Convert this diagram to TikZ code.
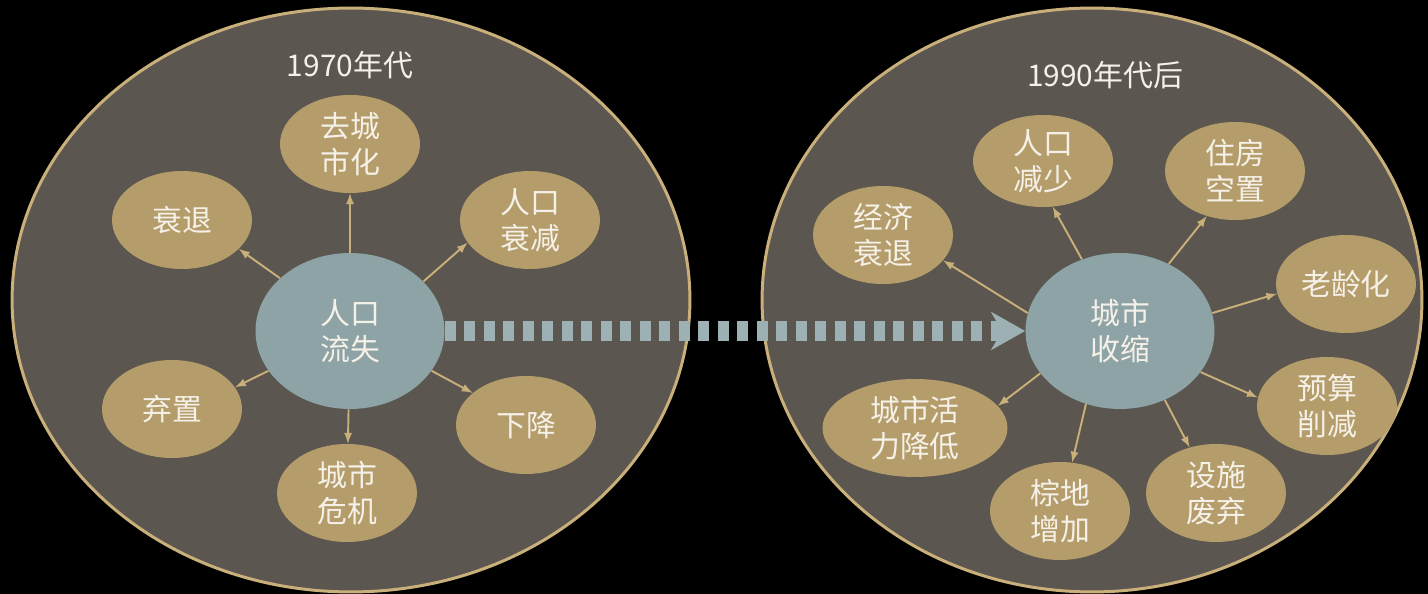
\documentclass[tikz,border=0pt]{standalone}
\usepackage{fontspec}
\setmainfont{Noto Sans CJK SC}
\usepackage{tikz}
\usetikzlibrary{shapes,arrows,arrows.meta}

\definecolor{eraback}{HTML}{5B564F}
\definecolor{rim}{HTML}{C9B07A}
\definecolor{leaffill}{HTML}{B59D6B}
\definecolor{corefill}{HTML}{8EA3A6}
\definecolor{dashc}{HTML}{9DB1B5}
\definecolor{ink}{HTML}{F5F1E8}

\begin{document}
\begin{tikzpicture}[x=0.02cm, y=-0.02cm, >=latex]
      \tikzstyle{era} = [ellipse, draw=rim, fill=eraback, line width=1.7pt, inner sep=0pt]
      \tikzstyle{title} = [text=ink, font=\fontsize{17pt}{20.5pt}\selectfont]
      \tikzstyle{core} = [ellipse, fill=corefill, text=ink, align=center, inner sep=0pt,
        minimum width=3.78cm, minimum height=3.12cm, font=\fontsize{17pt}{20.5pt}\selectfont]
      \tikzstyle{leaf} = [ellipse, fill=leaffill, text=ink, align=center, inner sep=0pt,
        minimum width=2.8cm, minimum height=1.96cm, font=\fontsize{17pt}{20.5pt}\selectfont]
      \tikzstyle{link} = [draw=rim, line width=1.1pt, ->]
      \tikzstyle{flow} = [draw=dashc, line width=0.4cm, dash pattern=on 0.22cm off 0.17cm,
        -{Stealth[length=0.68cm, width=0.76cm, inset=0.22cm]}]
      \useasboundingbox (0,0) rectangle (1428,594);
      \fill [black] (0,0) rectangle (1428,594);
      % the two periods
      \node (old) [era, minimum width=13.56cm, minimum height=11.68cm] at (351,300) {};
      \node (new) [era, minimum width=13.2cm, minimum height=11.68cm] at (1092,300) {};
      \node (oldtitle) [title] at (350,65) {1970年代};
      \node (newtitle) [title] at (1105,75) {1990年代后};
      % left circle
      \node (loss) [core] at (350,331) {人口\\流失};
      \node (decur) [leaf] at (350,144) {去城\\市化};
      \node (recess) [leaf] at (182,220) {衰退};
      \node (popdrop) [leaf] at (530,220) {人口\\衰减};
      \node (vacant) [leaf] at (172,409) {弃置};
      \node (fall) [leaf] at (526,425) {下降};
      \node (crisis) [leaf] at (347,493) {城市\\危机};
      % right circle
      \node (shrink) [core] at (1120,331) {城市\\收缩};
      \node (econ) [leaf] at (883,235) {经济\\衰退};
      \node (popless) [leaf, minimum height=1.84cm] at (1043,161) {人口\\减少};
      \node (housing) [leaf] at (1235,171) {住房\\空置};
      \node (aging) [leaf] at (1346,284) {老龄化};
      \node (budget) [leaf] at (1327,406) {预算\\削减};
      \node (facility) [leaf] at (1216,493) {设施\\废弃};
      \node (brown) [leaf] at (1060,511) {棕地\\增加};
      \node (vitality) [leaf, minimum width=3.7cm] at (915,428) {城市活\\力降低};
      \draw [link] (loss) -- (decur);
      \draw [link] (loss.143) -- (recess.333);
      \draw [link] (loss.34) -- (popdrop.200);
      \draw [link] (loss.206) -- (vacant.19);
      \draw [link] (loss.334) -- (fall.149);
      \draw [link] (loss) -- (crisis);
      \draw [link] (shrink.169) -- (econ.337);
      \draw [link] (shrink.118) -- (popless.282);
      \draw [link] (shrink.54) -- (housing.238);
      \draw [link] (shrink.11) -- (aging.188);
      \draw [link] (shrink.333) -- (budget.173);
      \draw [link] (shrink.303) -- (facility.120);
      \draw [link] (shrink.245) -- (brown.76);
      \draw [link] (shrink.208) -- (vitality.15);
      \draw [flow] (loss) -- (shrink);
    \end{tikzpicture}
\end{document}
